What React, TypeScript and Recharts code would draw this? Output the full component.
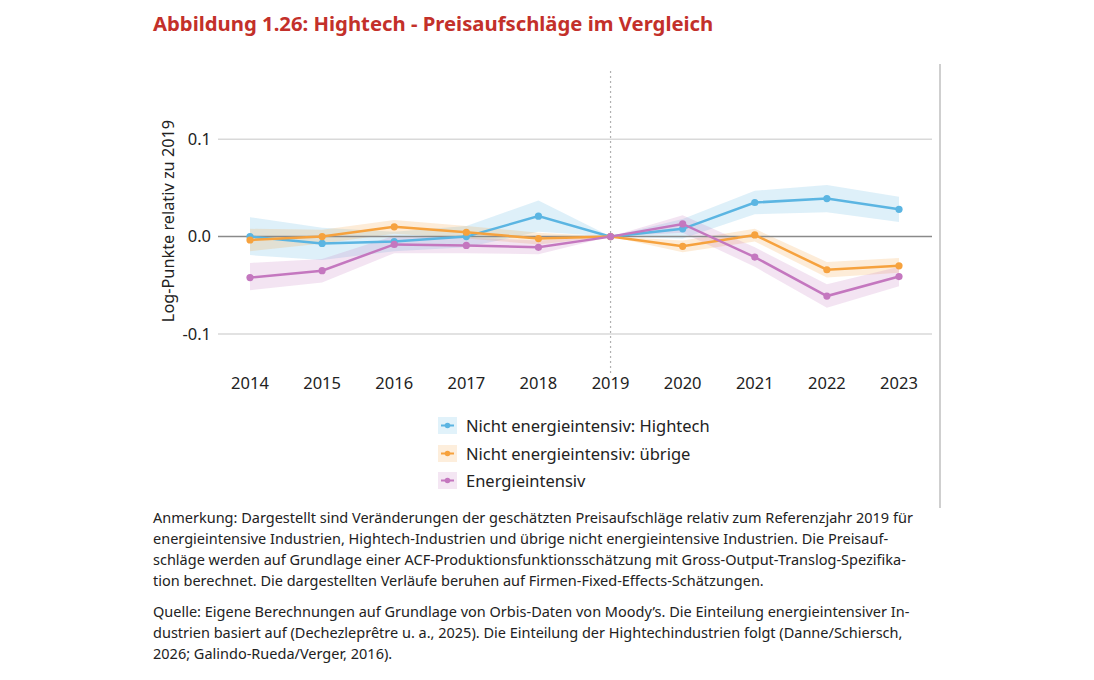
import {
  ComposedChart,
  Line,
  Area,
  XAxis,
  YAxis,
  ReferenceLine,
} from "recharts";

const years = ["2014", "2015", "2016", "2017", "2018", "2019", "2020", "2021", "2022", "2023"];

// Nicht energieintensiv: Hightech
const hightech = [0.0, -0.007, -0.005, 0.0, 0.021, 0, 0.008, 0.035, 0.039, 0.028];
const hightechLo = [-0.019, -0.024, -0.015, -0.011, 0.005, 0, -0.002, 0.023, 0.025, 0.015];
const hightechHi = [0.02, 0.009, 0.005, 0.011, 0.037, 0, 0.018, 0.047, 0.053, 0.041];

// Nicht energieintensiv: übrige
const uebrige = [-0.0035, 0.0, 0.01, 0.0045, -0.002, 0, -0.01, 0.0017, -0.034, -0.03];
const uebrigeLo = [-0.015, -0.007, 0.003, -0.002, -0.008, 0, -0.016, -0.005, -0.042, -0.037];
const uebrigeHi = [0.008, 0.007, 0.017, 0.011, 0.004, 0, -0.004, 0.008, -0.026, -0.022];

// Energieintensiv
const energie = [-0.042, -0.035, -0.008, -0.009, -0.011, 0, 0.013, -0.021, -0.061, -0.041];
const energieLo = [-0.055, -0.047, -0.017, -0.017, -0.018, 0, 0.004, -0.031, -0.073, -0.051];
const energieHi = [-0.027, -0.023, 0.001, -0.001, -0.004, 0, 0.022, -0.011, -0.049, -0.031];

const yTicks = [-0.1, 0, 0.1];
const gridValues = [-0.1, 0.1];

const BLUE = "#5bb5e2";
const ORANGE = "#f6a23e";
const PURPLE = "#c477bf";

const FONT = "'Noto Sans', sans-serif";

const series = [
  { key: "hightech", name: "Nicht energieintensiv: Hightech", color: BLUE },
  { key: "uebrige", name: "Nicht energieintensiv: übrige", color: ORANGE },
  { key: "energie", name: "Energieintensiv", color: PURPLE },
];

const data = years.map((year, i) => ({
  year,
  hightech: hightech[i],
  hightechBand: [hightechLo[i], hightechHi[i]],
  uebrige: uebrige[i],
  uebrigeBand: [uebrigeLo[i], uebrigeHi[i]],
  energie: energie[i],
  energieBand: [energieLo[i], energieHi[i]],
}));

const noteLines = [
  "Anmerkung: Dargestellt sind Veränderungen der geschätzten Preisaufschläge relativ zum Referenzjahr 2019 für",
  "energieintensive Industrien, Hightech-Industrien und übrige nicht energieintensive Industrien. Die Preisauf-",
  "schläge werden auf Grundlage einer ACF-Produktionsfunktionsschätzung mit Gross-Output-Translog-Spezifika-",
  "tion berechnet. Die dargestellten Verläufe beruhen auf Firmen-Fixed-Effects-Schätzungen.",
];

const sourceLines = [
  "Quelle: Eigene Berechnungen auf Grundlage von Orbis-Daten von Moody’s. Die Einteilung energieintensiver In-",
  "dustrien basiert auf (Dechezleprêtre u. a., 2025). Die Einteilung der Hightechindustrien folgt (Danne/Schiersch,",
  "2026; Galindo-Rueda/Verger, 2016).",
];

function LegendBox() {
  return (
    <div style={{ position: "absolute", left: 438, top: 412 }}>
      {series.map((s) => (
        <div key={s.key} style={{ display: "flex", alignItems: "center", height: 27.5 }}>
          <svg width={19} height={17} style={{ marginRight: 9 }}>
            <rect x={0} y={0} width={19} height={17} fill={s.color} fillOpacity={0.18} />
            <line x1={3} y1={8.5} x2={16} y2={8.5} stroke={s.color} strokeWidth={2} />
            <circle cx={9.5} cy={8.5} r={2.8} fill={s.color} />
          </svg>
          <span style={{ fontSize: 16.5, color: "#222", whiteSpace: "nowrap" }}>{s.name}</span>
        </div>
      ))}
    </div>
  );
}

export default function App() {
  return (
    <div
      style={{
        position: "absolute",
        left: 0,
        top: 0,
        width: 1094,
        height: 680,
        background: "#fff",
        fontFamily: FONT,
        overflow: "hidden",
      }}
    >
      <div
        style={{
          position: "absolute",
          left: 153,
          top: 9,
          fontSize: 20.3,
          fontWeight: 700,
          color: "#c3302a",
          whiteSpace: "nowrap",
        }}
      >
        Abbildung 1.26: Hightech - Preisaufschläge im Vergleich
      </div>

      {/* right-hand frame line */}
      <div
        style={{
          position: "absolute",
          left: 939,
          top: 64,
          width: 2,
          height: 444,
          background: "#cfcfcf",
        }}
      />

      <div
        style={{
          position: "absolute",
          left: 168,
          top: 221,
          transform: "translate(-50%, -50%) rotate(-90deg)",
          fontSize: 16.3,
          color: "#222",
          whiteSpace: "nowrap",
        }}
      >
        Log-Punkte relativ zu 2019
      </div>

      <div style={{ position: "absolute", left: 0, top: 0 }}>
        <ComposedChart
          width={1094}
          height={420}
          data={data}
          margin={{ top: 71, right: 162, bottom: 17, left: 168 }}
        >
          <XAxis
            dataKey="year"
            axisLine={false}
            tickLine={false}
            tickSize={4}
            tickMargin={0}
            padding={{ left: 32, right: 33 }}
            tick={{ fontSize: 16.5, fill: "#222", fontFamily: FONT }}
            height={30}
          />
          <YAxis
            type="number"
            domain={[-0.14, 0.17]}
            ticks={yTicks}
            width={50}
            axisLine={false}
            tickLine={false}
            tickSize={4}
            tickMargin={3}
            tickFormatter={(v: number) => v.toFixed(1)}
            tick={{ fontSize: 16.5, fill: "#222", fontFamily: FONT }}
          />
          {gridValues.map((v) => (
            <ReferenceLine key={v} y={v} stroke="#d9d9d9" strokeWidth={1.5} />
          ))}
          <ReferenceLine y={0} stroke="#8a8a8a" strokeWidth={1.5} />
          <ReferenceLine x="2019" stroke="#b0b0b0" strokeDasharray="2 3" strokeWidth={1.2} />
          {series.map((s) => (
            <Area
              key={s.key + "Band"}
              dataKey={s.key + "Band"}
              type="linear"
              stroke="none"
              fill={s.color}
              fillOpacity={0.2}
              isAnimationActive={false}
              activeDot={false}
            />
          ))}
          {series.map((s) => (
            <Line
              key={s.key}
              dataKey={s.key}
              name={s.name}
              type="linear"
              stroke={s.color}
              strokeWidth={2.5}
              dot={{ r: 3.6, fill: s.color, stroke: s.color, strokeWidth: 0 }}
              activeDot={false}
              isAnimationActive={false}
            />
          ))}
        </ComposedChart>
      </div>

      <LegendBox />

      <div
        style={{
          position: "absolute",
          left: 153,
          top: 507,
          fontSize: 14.5,
          lineHeight: "21px",
          color: "#222",
        }}
      >
        {noteLines.map((l) => (
          <div key={l} style={{ whiteSpace: "nowrap" }}>
            {l}
          </div>
        ))}
        <div style={{ height: 10 }} />
        {sourceLines.map((l) => (
          <div key={l} style={{ whiteSpace: "nowrap" }}>
            {l}
          </div>
        ))}
      </div>
    </div>
  );
}
